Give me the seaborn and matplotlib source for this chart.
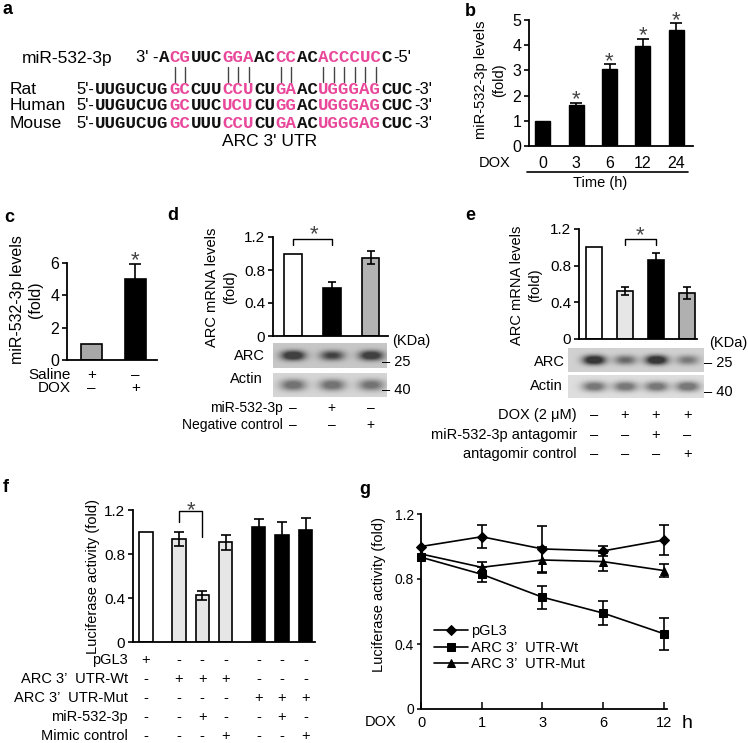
import numpy as np
import pandas as pd
import matplotlib
matplotlib.use("Agg")
import matplotlib.pyplot as plt
from matplotlib.lines import Line2D
from matplotlib.transforms import blended_transform_factory
import seaborn as sns

# ---------------- data ----------------
# panel a
mir_name = "miR-532-3p"
mir_segments = ["A", "CG", "UUC", "GGA", "AC", "CC", "AC", "ACCCUC", "C"]
species = ["Rat", "Human", "Mouse"]
rat_segments = ["UUGUCUG", "GC", "CUU", "CCU", "CU", "GA", "AC", "UGGGAG", "CUC"]
human_segments = ["UUGUCUG", "GC", "UUC", "UCU", "CU", "GG", "AC", "UGGGAG", "CUC"]
mouse_segments = ["UUGUCUG", "GC", "UUU", "CCU", "CU", "GA", "AC", "UGGGAG", "CUC"]
mir_offset = 6
paired = [1, 2, 6, 7, 8, 11, 12, 15, 16, 17, 18, 19, 20]
utr_title = "ARC 3' UTR"

# panel b
b_time = ["0", "3", "6", "12", "24"]
b_val = [1.0, 1.61, 3.05, 3.98, 4.62]
b_err = [0.0, 0.11, 0.19, 0.28, 0.25]
b_ticks = [0, 1, 2, 3, 4, 5]

# panel c
c_groups = ["Saline", "DOX"]
c_val = [1.0, 5.0]
c_err = [0.0, 0.95]
c_saline = ["+", "–"]
c_dox = ["–", "+"]
c_ticks = [0, 2, 4, 6]

# panel d
d_val = [1.0, 0.58, 0.95]
d_err = [0.0, 0.08, 0.08]
d_rows = ["miR-532-3p", "Negative control"]
d_mir = ["–", "+", "–"]
d_neg = ["–", "–", "+"]
d_arc = [1.0, 0.75, 0.95]
d_actin = [0.85, 0.85, 0.8]

# panel e
e_val = [1.0, 0.52, 0.86, 0.50]
e_err = [0.0, 0.045, 0.08, 0.065]
e_rows = ["DOX (2 μM)", "miR-532-3p antagomir", "antagomir control"]
e_dox = ["–", "+", "+", "+"]
e_antag = ["–", "–", "+", "–"]
e_ctrl = ["–", "–", "–", "+"]
e_arc = [1.0, 0.5, 1.0, 0.42]
e_actin = [0.85, 0.85, 0.85, 0.9]

fold_ticks = [0, 0.4, 0.8, 1.2]

# panel f
f_val = [1.0, 0.937, 0.423, 0.907, 1.049, 0.973, 1.019]
f_err = [0.0, 0.065, 0.043, 0.07, 0.067, 0.118, 0.106]
f_rows = ["pGL3", "ARC 3’  UTR-Wt", "ARC 3’  UTR-Mut", "miR-532-3p", "Mimic control"]
f_pgl3 = ["+", "-", "-", "-", "-", "-", "-"]
f_wt = ["-", "+", "+", "+", "-", "-", "-"]
f_mut = ["-", "-", "-", "-", "+", "+", "+"]
f_mir = ["-", "-", "+", "-", "-", "+", "-"]
f_mimic = ["-", "-", "-", "+", "-", "-", "+"]

# panel g
g_dox = ["0", "1", "3", "6", "12"]
g_labels = ["pGL3", "ARC 3’  UTR-Wt", "ARC 3’  UTR-Mut"]
g_pgl3 = [1.0, 1.06, 0.985, 0.973, 1.04]
g_pgl3_err = [0.0, 0.07, 0.14, 0.03, 0.09]
g_wt = [0.934, 0.829, 0.688, 0.590, 0.463]
g_wt_err = [0.0, 0.045, 0.07, 0.076, 0.10]
g_mut = [0.954, 0.872, 0.917, 0.907, 0.852]
g_mut_err = [0.0, 0.03, 0.08, 0.055, 0.04]

# ---------------- setup ----------------
sns.set_theme(style="ticks")
plt.rcParams["font.family"] = ["Liberation Sans", "DejaVu Sans"]
plt.rcParams["axes.linewidth"] = 1.3
plt.rcParams["axes.edgecolor"] = "black"
plt.rcParams["xtick.color"] = "black"
plt.rcParams["ytick.color"] = "black"
plt.rcParams["text.color"] = "black"
plt.rcParams["axes.labelcolor"] = "black"

W, H = 748, 743
fig = plt.figure(figsize=(W / 100, H / 100), dpi=100)
fig.patch.set_facecolor("white")
PINK = "#e8479a"
STAR = "#444444"


def add_ax(l, t, r, b):
    return fig.add_axes([l / W, 1 - b / H, (r - l) / W, (b - t) / H])


def ftext(x, y, s, **kw):
    kw.setdefault("va", "center")
    return fig.text(x / W, 1 - y / H, s, **kw)


def fline(x0, y0, x1, y1, **kw):
    fig.add_artist(Line2D([x0 / W, x1 / W], [1 - y0 / H, 1 - y1 / H],
                          transform=fig.transFigure, **kw))


def style(ax, ylim, yticks, xlim, labelsize=11, fmt="{:g}"):
    ax.set_ylim(*ylim)
    ax.set_yticks(yticks)
    ax.set_yticklabels([fmt.format(t) for t in yticks])
    ax.set_xlim(*xlim)
    sns.despine(ax=ax)
    ax.tick_params(axis="y", direction="out", length=3.5, width=1.2, pad=2,
                   labelsize=labelsize)
    ax.tick_params(axis="x", length=0)
    ax.set_xlabel("")
    ax.set_ylabel("")
    ax.set_facecolor("none")


def err(ax, x, v, e, cap):
    x = np.asarray(x, float)
    v = np.asarray(v, float)
    e = np.asarray(e, float)
    m = e > 0
    ax.errorbar(x[m], v[m], yerr=e[m], fmt="none", ecolor="black",
                elinewidth=1.2, capsize=cap, capthick=1.2, clip_on=False, zorder=5)


def star(ax, x, y, size=16):
    ax.annotate("*", (x, y), xytext=(0, -4), textcoords="offset points",
                ha="center", va="center", fontsize=size, color=STAR,
                annotation_clip=False)


def sign_rows(ax, xs, rows, labels, ys, label_x, size):
    tr = blended_transform_factory(ax.transData, fig.transFigure)
    for lab, row, y in zip(labels, rows, ys):
        ftext(label_x, y, lab, ha="right", fontsize=size)
        for xi, s in zip(xs, row):
            ax.text(xi, 1 - y / H, s, transform=tr, ha="center", va="center",
                    fontsize=size, clip_on=False)


def blot(l, t, r, b, xlim, amps, halfw, thick, bg, dark):
    ax = add_ax(l, t, r, b)
    xs = np.linspace(xlim[0], xlim[1], 400)
    ys = np.linspace(0, 1, 80)
    X, Y = np.meshgrid(xs, ys)
    I = np.zeros_like(X)
    for c, a in enumerate(amps):
        I += 1.4 * a * np.exp(-np.abs((X - c) / halfw) ** 2.4) * \
            np.exp(-np.abs((Y - 0.5) / thick) ** 2.2)
    I = np.clip(I, 0, 1)
    img = bg - I * (bg - dark)
    ax.imshow(img, cmap="gray", vmin=0, vmax=1, aspect="auto",
              extent=[xlim[0], xlim[1], 0, 1], interpolation="bilinear")
    ax.set_xlim(*xlim)
    ax.set_axis_off()
    return ax


# ---------------- panel labels ----------------
for lab, (x, y) in zip("abcdefg", [(8, 10), (470, 12), (9, 217), (173, 216),
                                   (470, 216), (6, 487), (365, 489)]):
    ftext(x, y, lab, ha="center", fontsize=13, fontweight="bold")

# ---------------- panel a ----------------
pitch = 10.6
x_mir0 = 164.0
x_utr0 = x_mir0 - mir_offset * pitch
SEQ_SIZE = 12.6  # monospace: advance = 0.6 em ~ pitch


def draw_seq(segments, x0, y):
    k = 0
    for si, seg in enumerate(segments):
        col = PINK if si % 2 == 1 else "#111111"
        ftext(x0 + (k - 0.5) * pitch + 0.05, y, seg, ha="left", fontsize=SEQ_SIZE,
              fontweight="bold", family="Liberation Mono", color=col)
        k += len(seg)
    return k


ftext(22, 58, mir_name, ha="left", fontsize=12.5)
ftext(158, 58, "3' -", ha="right", fontsize=12)
n_mir = draw_seq(mir_segments, x_mir0, 58)
ftext(x_mir0 + (n_mir - 0.5) * pitch + 1, 58, "-5'", ha="left", fontsize=12)
for i in paired:
    fline(x_mir0 + i * pitch, 67, x_mir0 + i * pitch, 82, color="#444444", lw=1.0)
for name, segs, y in zip(species, [rat_segments, human_segments, mouse_segments],
                         [89, 106, 123]):
    ftext(10, y, name, ha="left", fontsize=12.5)
    ftext(x_utr0 - 6, y, "5'-", ha="right", fontsize=12)
    n = draw_seq(segs, x_utr0, y)
    ftext(x_utr0 + (n - 0.5) * pitch + 1, y, "-3'", ha="left", fontsize=12)
ftext(270, 142, utr_title, ha="center", fontsize=12.5)

# ---------------- panel b ----------------
axb = add_ax(529, 20, 693, 146)
sns.barplot(x=b_time, y=b_val, order=b_time, color="black", saturation=1,
            width=0.45, errorbar=None, edgecolor="black", ax=axb)
xb = np.arange(len(b_val))
err(axb, xb, b_val, b_err, 4)
style(axb, (0, 5), b_ticks, (-0.42, 4.51), labelsize=11.5)
axb.tick_params(axis="x", length=0, pad=7, labelsize=11.5)
for xi, v, e in zip(xb, b_val, b_err):
    if xi > 0:
        star(axb, xi, v + e + 0.32)
ftext(511, 163, "DOX", ha="right", fontsize=10.5)
fline(527, 172, 688, 172, color="black", lw=1.2)
ftext(600, 183, "Time (h)", ha="center", fontsize=10.5)
ftext(490, 80, "miR-532-3p levels\n(fold)", ha="center", rotation=90,
      fontsize=10.5, linespacing=1.3)

# ---------------- panel c ----------------
axc = add_ax(67, 263, 157, 360)
sns.barplot(x=c_groups, y=c_val, order=c_groups, color="black", saturation=1,
            width=0.48, errorbar=None, edgecolor="black", linewidth=1.2, ax=axc)
for p, col in zip(axc.patches, ["#a8a8a8", "black"]):
    p.set_facecolor(col)
xc = np.arange(len(c_val))
err(axc, xc, c_val, c_err, 4.5)
style(axc, (0, 6), c_ticks, (-0.557, 1.49), labelsize=11.5)
axc.set_xticklabels([])
star(axc, 1, c_val[1] + c_err[1] + 0.55)
sign_rows(axc, xc, [c_saline, c_dox], c_groups, [375, 388], 71, 11)
ftext(27, 300, "miR-532-3p levels\n(fold)", ha="center", rotation=90,
      fontsize=11.5, linespacing=1.25)

# ---------------- panel d ----------------
axd = add_ax(273, 237, 388, 336)
sns.barplot(x=np.arange(len(d_val)), y=d_val, color="white", saturation=1,
            width=0.46, errorbar=None, edgecolor="black", linewidth=1.2, ax=axd)
for p, col in zip(axd.patches, ["white", "black", "#b3b3b3"]):
    p.set_facecolor(col)
xd = np.arange(len(d_val))
err(axd, xd, d_val, d_err, 3)
style(axd, (0, 1.2), fold_ticks, (-0.516, 2.45), labelsize=11)
axd.set_xticklabels([])
axd.plot([0, 0, 1, 1], [1.103, 1.176, 1.176, 1.103], color="black", lw=1.0,
         clip_on=False)
star(axd, 0.55, 1.30)
ftext(221, 287, "ARC mRNA levels\n(fold)", ha="center", rotation=90,
      fontsize=10.5, linespacing=1.3)
blot(273, 343, 386, 368, (-0.516, 2.4), d_arc, 0.31, 0.2, 0.78, 0.25)
blot(273, 373, 386, 397, (-0.516, 2.4), d_actin, 0.33, 0.24, 0.84, 0.45)
ftext(392, 341, "(KDa)", ha="left", fontsize=10.5)
ftext(382, 362, "– 25", ha="left", fontsize=10.5)
ftext(382, 390, "– 40", ha="left", fontsize=10.5)
ftext(265, 356, "ARC", ha="right", fontsize=10.5)
ftext(263, 379, "Actin", ha="right", fontsize=10.5)
sign_rows(axd, xd, [d_mir, d_neg], d_rows, [408, 425], 283, 10)

# ---------------- panel e ----------------
axe = add_ax(579, 229, 697, 339)
sns.barplot(x=np.arange(len(e_val)), y=e_val, color="white", saturation=1,
            width=0.52, errorbar=None, edgecolor="black", linewidth=1.2, ax=axe)
for p, col in zip(axe.patches, ["white", "#e6e6e6", "black", "#b0b0b0"]):
    p.set_facecolor(col)
xe = np.arange(len(e_val))
err(axe, xe, e_val, e_err, 3)
style(axe, (0, 1.2), fold_ticks, (-0.48, 3.32), labelsize=11)
axe.set_xticklabels([])
axe.plot([1, 1, 2, 2], [1.025, 1.09, 1.09, 1.025], color="black", lw=1.0,
         clip_on=False)
star(axe, 1.5, 1.19)
ftext(526, 285, "ARC mRNA levels\n(fold)", ha="center", rotation=90,
      fontsize=10.5, linespacing=1.3)
blot(568, 348, 703, 372, (-0.839, 3.516), e_arc, 0.36, 0.2, 0.82, 0.22)
blot(568, 375, 703, 398, (-0.839, 3.516), e_actin, 0.38, 0.22, 0.87, 0.47)
ftext(709, 343, "(KDa)", ha="left", fontsize=10.5)
ftext(704, 363, "– 25", ha="left", fontsize=10.5)
ftext(704, 392, "– 40", ha="left", fontsize=10.5)
ftext(565, 362, "ARC", ha="right", fontsize=10.5)
ftext(563, 386, "Actin", ha="right", fontsize=10.5)
sign_rows(axe, xe, [e_dox, e_antag, e_ctrl], e_rows, [415, 435, 454], 577, 10.5)

# ---------------- panel f ----------------
f_group = [0 if a == "+" else (1 if b == "+" else 2)
           for a, b in zip(f_pgl3, f_wt)]
f_pos = [i + 0.4 * g for i, g in enumerate(f_group)]
unit = (305.5 - 146) / f_pos[-1]
axf = add_ax(133, 510, 315, 642)
df_f = pd.DataFrame({"pos": f_pos, "val": f_val})
sns.barplot(data=df_f, x="pos", y="val", native_scale=True, orient="x",
            color="white", saturation=1, width=0.57, errorbar=None,
            edgecolor="black", linewidth=1.2, ax=axf)
for p, g in zip(axf.patches, f_group):
    p.set_facecolor(["white", "#e6e6e6", "black"][g])
err(axf, f_pos, f_val, f_err, 3.5)
style(axf, (0, 1.2), fold_ticks, (-13 / unit, (315 - 146) / unit), labelsize=11)
axf.set_xticks([])
axf.plot([f_pos[1], f_pos[1], f_pos[2], f_pos[2]], [1.09, 1.19, 1.19, 0.955],
         color="black", lw=1.0, clip_on=False)
star(axf, (f_pos[1] + f_pos[2]) / 2, 1.245)
ftext(93, 577, "Luciferase activity (fold)", ha="center", rotation=90, fontsize=10.5)
sign_rows(axf, f_pos, [f_pgl3, f_wt, f_mut, f_mir, f_mimic], f_rows,
          [660, 679, 698, 717, 736], 128, 10.5)

# ---------------- panel g ----------------
axg = add_ax(421, 514, 667, 709)
n = len(g_dox)
df_g = pd.DataFrame({
    "x": np.tile(np.arange(n), 3),
    "val": g_pgl3 + g_wt + g_mut,
    "series": [g_labels[0]] * n + [g_labels[1]] * n + [g_labels[2]] * n,
})
sns.lineplot(data=df_g, x="x", y="val", style="series", style_order=g_labels,
             markers={g_labels[0]: "D", g_labels[1]: "s", g_labels[2]: "^"},
             dashes=False, color="black", markersize=5.5, linewidth=1.2,
             markeredgecolor="black", ax=axg, clip_on=False, zorder=4)
for vals, errs in [(g_pgl3, g_pgl3_err), (g_wt, g_wt_err), (g_mut, g_mut_err)]:
    err(axg, np.arange(n), vals, errs, 3.5)
axg.set_ylim(0, 1.2)
axg.set_yticks(fold_ticks)
axg.set_yticklabels(["{:g}".format(t) for t in fold_ticks])
axg.set_xlim(0, 4.05)
axg.set_xticks(np.arange(n))
axg.set_xticklabels(g_dox)
sns.despine(ax=axg)
axg.tick_params(axis="y", direction="out", length=3, width=1.1, pad=2, labelsize=10)
axg.tick_params(axis="x", direction="in", length=5, width=1.1, pad=5, labelsize=10.5)
axg.set_xlabel("")
axg.set_ylabel("")
axg.set_facecolor("none")
handles, labels = axg.get_legend_handles_labels()
axg.legend(handles, labels, loc="upper left", bbox_to_anchor=(434 / W, 1 - 624 / H),
           bbox_transform=fig.transFigure, frameon=False, handlelength=2.3,
           handletextpad=0.25, labelspacing=0.18, borderpad=0, borderaxespad=0,
           fontsize=10.5)
ftext(396, 722, "DOX", ha="right", fontsize=10.5)
ftext(682, 723, "h", ha="left", fontsize=14)
ftext(379, 595, "Luciferase activity (fold)", ha="center", rotation=90, fontsize=10.5)

fig.savefig("out.png", dpi=100, facecolor="white")
